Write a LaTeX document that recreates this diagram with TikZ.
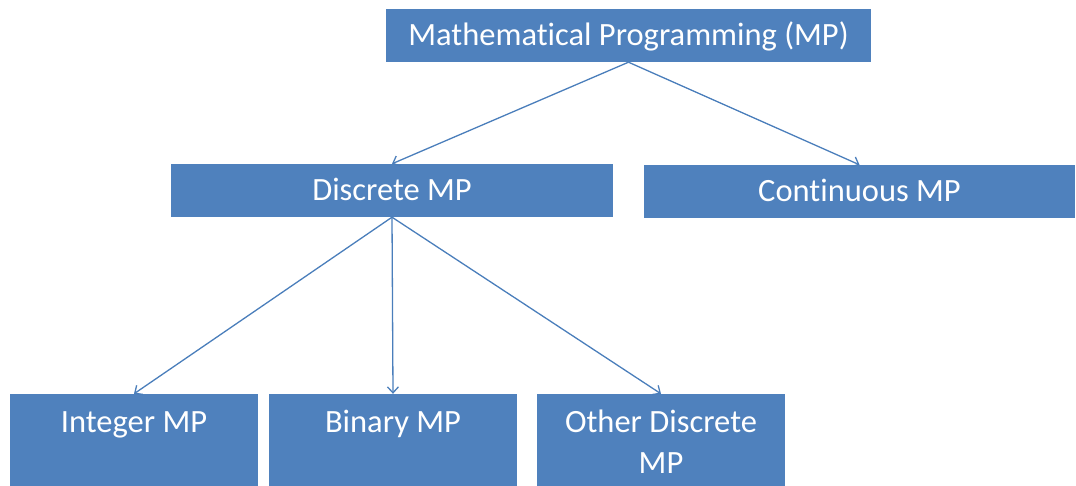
\documentclass[tikz,border=0pt]{standalone}
\usepackage{fontspec}
\setmainfont{Carlito}[Ligatures=NoCommon]
\usetikzlibrary{arrows.meta}
\definecolor{boxblue}{HTML}{4F81BD}
\definecolor{linkblue}{HTML}{4A7EBB}
\begin{document}
\begin{tikzpicture}[x=1pt,y=-1pt,
  box/.style={fill=boxblue, draw=none, inner sep=0pt, text=white,
    font=\fontsize{32.5}{41}\selectfont, text height=20.5pt, text depth=0pt},
  lbl/.style={text=white, inner sep=0pt, align=center,
    font=\fontsize{32.5}{41}\selectfont},
  link/.style={draw=linkblue, line width=1.3pt,
    -{Straight Barb[length=6pt,width=11pt,line width=1.3pt]}}]
\useasboundingbox (0,0) rectangle (1076,486);

% upper tiers
\node[box, minimum width=485pt, minimum height=53pt] (mp) at (628.5,35.5)
  {Mathematical Programming (MP)};
\node[box, minimum width=442pt, minimum height=53pt] (disc) at (392,190.5)
  {Discrete MP};
\node[box, minimum width=431pt, minimum height=53pt] (cont) at (859.5,191.5)
  {Continuous MP};

% lowest tier: text sits near the top of each box
\node[box, minimum width=248pt, minimum height=92pt] (int) at (134,440) {};
\node[box, minimum width=248pt, minimum height=92pt] (bin) at (393,440) {};
\node[box, minimum width=248pt, minimum height=92pt] (oth) at (661,440) {};
\node[lbl, anchor=base] (intT) at (134,432) {Integer MP};
\node[lbl, anchor=base] (binT) at (393,432) {Binary MP};
% base of a two-line node is its last line
\node[lbl, anchor=base] (othT) at (661,473) {Other Discrete\\MP};

% connectors
\draw[link] (mp.south) -- (disc.north);
\draw[link] (mp.south) -- (cont.north);
\draw[link] (disc.south) -- (int.north);
\draw[link] (disc.south) -- (bin.north);
\draw[link] (disc.south) -- (oth.north);
\end{tikzpicture}
\end{document}
